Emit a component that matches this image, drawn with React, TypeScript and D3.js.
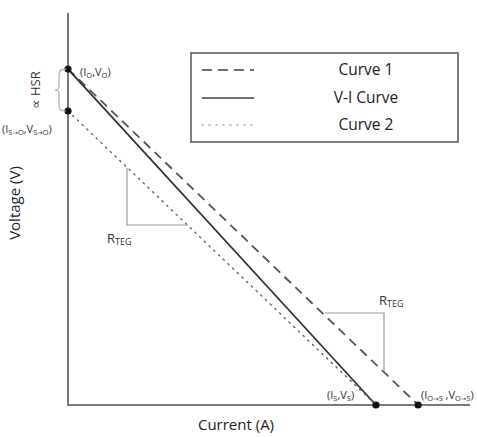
import React from "react";
import * as d3 from "d3";

// Key points (current in A-units, voltage in V-units; arbitrary normalized scale)
const pointNames = ["O", "StoO", "S", "OtoS"];
const pointCurrents = [0, 0, 76.6, 87.1];
const pointVoltages = [85.7, 75, 0, 0];

const curveNames = ["Curve 1", "V-I Curve", "Curve 2"];
// each curve: [start point index, end point index]
const curveStart = [0, 0, 1];
const curveEnd = [3, 2, 2];
const curveDash = ["9,6", "", "1.5,5"];

const W = 477;
const H = 437;

export default function App() {
  const x = d3.scaleLinear().domain([0, 100]).range([68, 470]);
  const y = d3.scaleLinear().domain([0, 100]).range([405, 13]);
  const line = d3
    .line<[number, number]>()
    .x((d) => x(d[0]))
    .y((d) => y(d[1]));

  const px = pointCurrents.map((c) => x(c));
  const py = pointVoltages.map((v) => y(v));

  const font = "'Open Sans', 'Liberation Sans', sans-serif";
  const symFont = "'DejaVu Sans', sans-serif";
  const axisColor = "#7a7a7a";

  const legendX = 191;
  const legendY = 53;
  const legendW = 267;
  const legendH = 89;
  const rowY = [70, 98, 125];

  // brace path between the two y-intercept points
  const by0 = py[0];
  const by1 = py[1];
  const bm = (by0 + by1) / 2;
  const brace = `M66,${by0} C59,${by0} 59,${by0 + 3} 59,${by0 + 8} L59,${bm - 4} C59,${bm} 57,${bm} 55,${bm} C57,${bm} 59,${bm} 59,${bm + 4} L59,${by1 - 8} C59,${by1 - 3} 59,${by1} 66,${by1}`;

  const Arrow = () => (
    <tspan fontFamily={symFont} fontSize={6.5}>→</tspan>
  );

  return (
    <svg width={W} height={H} style={{ display: "block", position: "absolute", left: 0, top: 0, background: "#fff" }} fontFamily={font}>
      {/* axes */}
      <line x1={x(0)} y1={y(0) + 1} x2={x(0)} y2={y(100)} stroke={axisColor} strokeWidth={2} />
      <line x1={x(0) - 1} y1={y(0)} x2={x(100)} y2={y(0)} stroke={axisColor} strokeWidth={2} />

      {/* curves */}
      {curveNames.map((n, i) => (
        <path
          key={n}
          d={line([
            [pointCurrents[curveStart[i]], pointVoltages[curveStart[i]]],
            [pointCurrents[curveEnd[i]], pointVoltages[curveEnd[i]]],
          ]) as string}
          fill="none"
          stroke={i === 2 ? "#666" : i === 0 ? "#555" : "#333"}
          strokeWidth={i === 2 ? 1.4 : 1.8}
          strokeDasharray={curveDash[i] || undefined}
          strokeLinecap={i === 2 ? "round" : "butt"}
        />
      ))}

      {/* points */}
      {pointNames.map((n, i) => (
        <circle key={n} cx={px[i]} cy={py[i]} r={3.6} fill="#111" />
      ))}

      {/* brace and HSR */}
      <path d={brace} fill="none" stroke="#aaa" strokeWidth={1.2} />
      <text transform={`translate(40,${bm}) rotate(-90)`} textAnchor="middle" fontSize={13} fill="#333">
        <tspan fontFamily={symFont}>∝</tspan> HSR
      </text>

      {/* point labels */}
      <text x={80} y={76} fontSize={11} fill="#333">
        (I<tspan fontSize={7.5} dy={2}>O</tspan>
        <tspan dy={-2}>,V</tspan>
        <tspan fontSize={7.5} dy={2}>O</tspan>
        <tspan dy={-2}>)</tspan>
      </text>
      <text x={2} y={133} fontSize={11} fill="#333">
        (I<tspan fontSize={7.5} dy={2}>S<Arrow />O</tspan>
        <tspan dy={-2}>,V</tspan>
        <tspan fontSize={7.5} dy={2}>S<Arrow />O</tspan>
        <tspan dy={-2}>)</tspan>
      </text>
      <text x={327} y={399} fontSize={11} fill="#333">
        (I<tspan fontSize={7.5} dy={2}>S</tspan>
        <tspan dy={-2}>,V</tspan>
        <tspan fontSize={7.5} dy={2}>S</tspan>
        <tspan dy={-2}>)</tspan>
      </text>
      <text x={421} y={399} fontSize={11} fill="#333">
        (I<tspan fontSize={7.5} dy={2}>O<Arrow />S</tspan>
        <tspan dy={-2}> ,V</tspan>
        <tspan fontSize={7.5} dy={2}>O<Arrow />S</tspan>
        <tspan dy={-2}>)</tspan>
      </text>

      {/* slope triangles */}
      <path d="M127,168 L127,225 L188,225" fill="none" stroke="#999" strokeWidth={1.2} />
      <text x={107} y={243} fontSize={13} fill="#333">
        R<tspan fontSize={9} dy={2}>TEG</tspan>
      </text>
      <path d="M325,313 L384,313 L384,372" fill="none" stroke="#999" strokeWidth={1.2} />
      <text x={379} y={305} fontSize={13} fill="#333">
        R<tspan fontSize={9} dy={2}>TEG</tspan>
      </text>

      {/* legend */}
      <rect x={legendX} y={legendY} width={legendW} height={legendH} fill="#fff" stroke="#555" strokeWidth={1.5} />
      {curveNames.map((n, i) => (
        <g key={n}>
          <line
            x1={202}
            x2={254}
            y1={rowY[i]}
            y2={rowY[i]}
            stroke={i === 2 ? "#777" : "#444"}
            strokeWidth={i === 2 ? 1.2 : 1.6}
            strokeDasharray={i === 0 ? "10,6" : i === 2 ? "1,6" : undefined}
            strokeLinecap={i === 2 ? "round" : "butt"}
          />
          <text x={366} y={rowY[i] + 5} textAnchor="middle" fontSize={15.5} fill="#222">
            {n}
          </text>
        </g>
      ))}

      {/* axis titles */}
      <text x={236} y={430} textAnchor="middle" fontSize={15} fill="#222">
        Current (A)
      </text>
      <text transform="translate(20,203) rotate(-90)" textAnchor="middle" fontSize={15} fill="#222">
        Voltage (V)
      </text>
    </svg>
  );
}
